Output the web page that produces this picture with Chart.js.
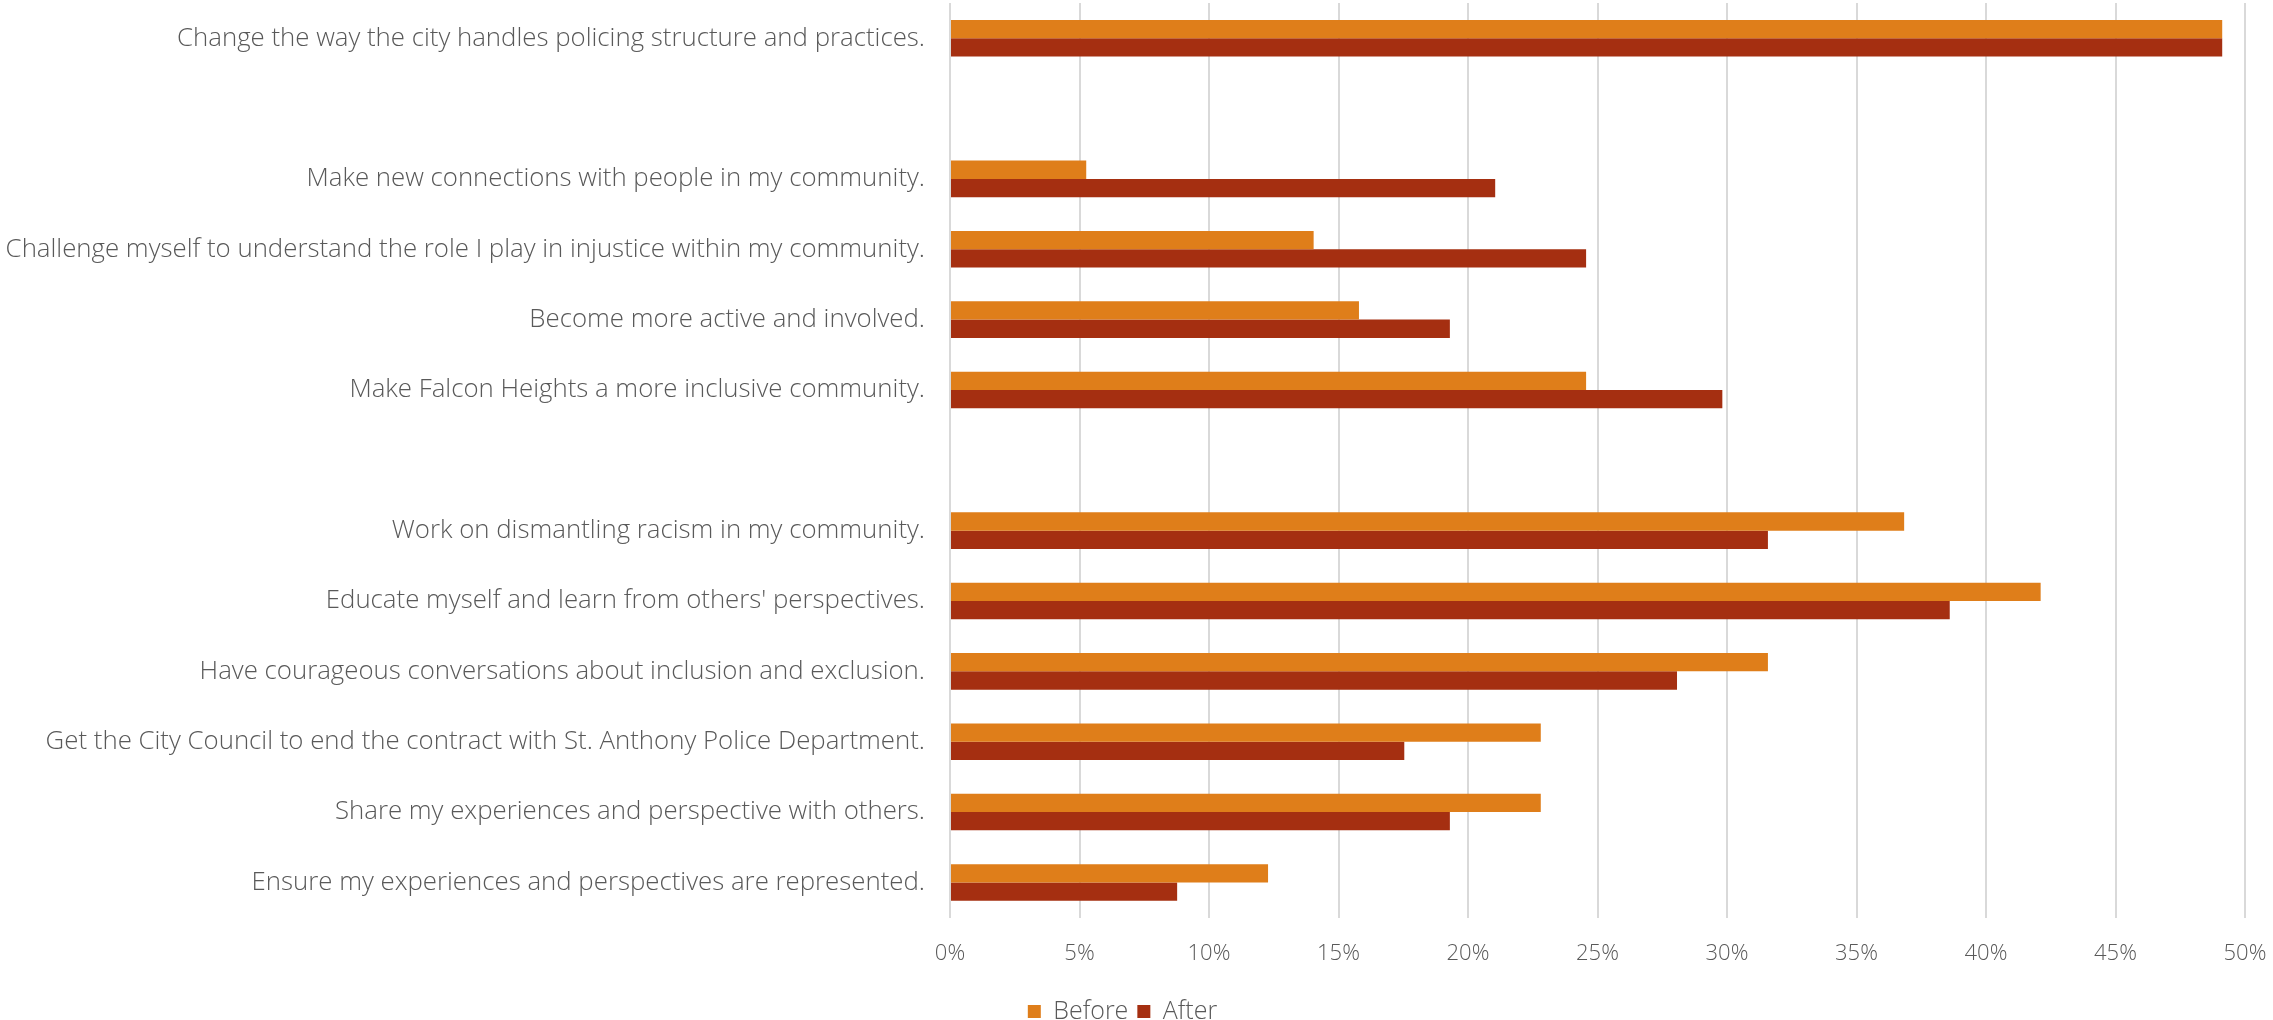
<!DOCTYPE html>
<html>
<head>
<meta charset="utf-8">
<script src="https://cdn.jsdelivr.net/npm/chart.js@4/dist/chart.umd.min.js"></script>
<style>
  html, body { margin: 0; padding: 0; background: #fff; }
  #wrap { width: 2273px; height: 1020px; position: relative; }
</style>
</head>
<body>
<div id="wrap"><canvas id="chart"></canvas></div>
<script>
// categories, top to bottom ('' = spacer rows in the original)
const CATEGORIES = [
  'Change the way the city handles policing structure and practices.',
  '',
  'Make new connections with people in my community.',
  'Challenge myself to understand the role I play in injustice within my community.',
  'Become more active and involved.',
  'Make Falcon Heights a more inclusive community.',
  '',
  'Work on dismantling racism in my community.',
  "Educate myself and learn from others' perspectives.",
  'Have courageous conversations about inclusion and exclusion.',
  'Get the City Council to end the contract with St. Anthony Police Department.',
  'Share my experiences and perspective with others.',
  'Ensure my experiences and perspectives are represented.',
];

// percent of respondents
const BEFORE = [49.12, null, 5.26, 14.04, 15.79, 24.56, null, 36.84, 42.11, 31.58, 22.81, 22.81, 12.28];
const AFTER  = [49.12, null, 21.05, 24.56, 19.30, 29.82, null, 31.58, 38.60, 28.07, 17.54, 19.30, 8.77];

const X_MIN = 0;
const X_MAX = 50;
const X_STEP = 5;

const FONT = "'Open Sans', 'Liberation Sans', sans-serif";
const TEXT_COLOR = '#595959';
const GRID_COLOR = '#d9d9d9';

new Chart(document.getElementById('chart'), {
  type: 'bar',
  data: {
    labels: CATEGORIES,
    datasets: [
      {
        label: 'Before',
        data: BEFORE,
        backgroundColor: '#df7e1a',
        categoryPercentage: 0.52,
        barPercentage: 1.0,
      },
      {
        label: 'After',
        data: AFTER,
        backgroundColor: '#a52f11',
        categoryPercentage: 0.52,
        barPercentage: 1.0,
      },
    ],
  },
  options: {
    indexAxis: 'y',
    responsive: true,
    maintainAspectRatio: false,
    animation: false,
    layout: { padding: { top: 3, right: 28, left: 0, bottom: -14 } },
    plugins: {
      tooltip: { enabled: false },
      legend: {
        position: 'bottom',
        labels: {
          color: TEXT_COLOR,
          font: { family: FONT, size: 25, weight: 300, lineHeight: 0.8 },
          boxWidth: 13,
          boxHeight: 13,
          padding: 9,
        },
      },
    },
    scales: {
      x: {
        min: X_MIN,
        max: X_MAX,
        grid: { color: GRID_COLOR, lineWidth: 2, drawTicks: false },
        border: { display: false },
        afterFit: scale => {
          scale.paddingRight = 0;
        },
        ticks: {
          stepSize: X_STEP,
          color: TEXT_COLOR,
          padding: 23,
          font: { family: FONT, size: 22, weight: 300 },
          callback: v => v + '%',
        },
      },
      y: {
        grid: { display: false, drawTicks: false },
        border: { display: false },
        afterFit: scale => {
          scale.width = 950;
          scale.paddingTop = 0;
          scale.paddingBottom = 0;
        },
        ticks: {
          color: TEXT_COLOR,
          padding: 25,
          autoSkip: false,
          font: { family: FONT, size: 25.8, weight: 300 },
        },
      },
    },
  },
});
</script>
</body>
</html>
